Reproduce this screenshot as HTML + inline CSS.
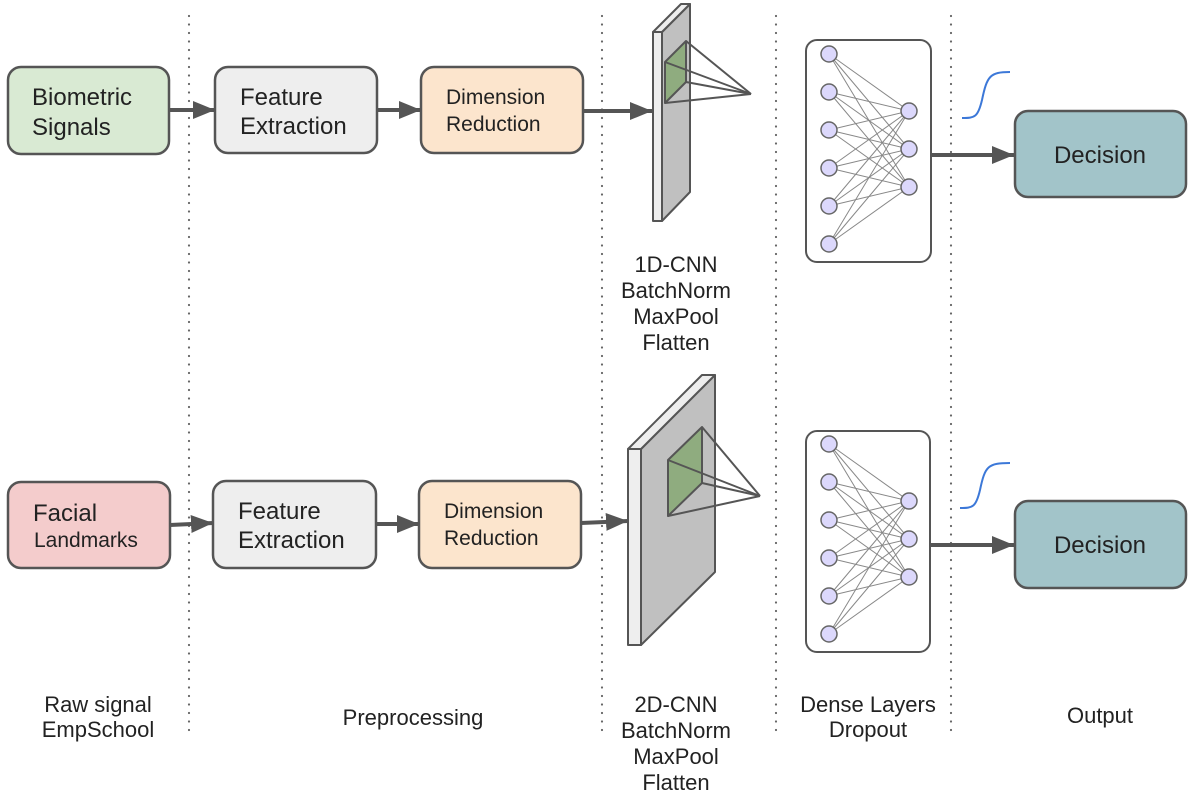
<!DOCTYPE html>
<html><head><meta charset="utf-8"><style>
html,body{margin:0;padding:0;background:#fff;}
svg{display:block;font-family:"Liberation Sans",Arial,sans-serif;}
</style></head><body>
<svg id="s" width="1196" height="800" viewBox="0 0 1196 800" xmlns="http://www.w3.org/2000/svg">
<defs>
<marker id="ar" markerWidth="24" markerHeight="20" refX="22" refY="9" orient="auto" markerUnits="userSpaceOnUse" viewBox="0 0 24 20">
<path d="M0,0 L22,9 L0,18 z" fill="#555"/></marker>
</defs>
<g stroke="#666" stroke-width="2.2" stroke-dasharray="0,8.5" stroke-linecap="round">
<line x1="189" y1="16" x2="189" y2="735"/>
<line x1="602" y1="16" x2="602" y2="735"/>
<line x1="776" y1="16" x2="776" y2="735"/>
<line x1="951" y1="16" x2="951" y2="735"/>
</g>
<g stroke="#555" stroke-width="2.5">
<rect x="8" y="67" width="161" height="87" rx="13" fill="#d9ead3"/>
<rect x="215" y="67" width="162" height="86" rx="13" fill="#eeeeee"/>
<rect x="421" y="67" width="162" height="86" rx="13" fill="#fce5cd"/>
<rect x="1015" y="111" width="171" height="86" rx="13" fill="#a2c4c9"/>
<rect x="8" y="482" width="162" height="86" rx="13" fill="#f4cccc"/>
<rect x="213" y="481" width="163" height="87" rx="13" fill="#eeeeee"/>
<rect x="419" y="481" width="162" height="87" rx="13" fill="#fce5cd"/>
<rect x="1015" y="501" width="171" height="87" rx="13" fill="#a2c4c9"/>
</g>
<g stroke="#555" stroke-width="4" marker-end="url(#ar)">
<line x1="169" y1="110" x2="215" y2="110"/>
<line x1="377" y1="110" x2="421" y2="110"/>
<line x1="583" y1="111" x2="652" y2="111"/>
<line x1="931" y1="155" x2="1014" y2="155"/>
<line x1="170" y1="525" x2="213" y2="523"/>
<line x1="376" y1="524" x2="419" y2="524"/>
<line x1="581" y1="523" x2="628" y2="521"/>
<line x1="930" y1="545" x2="1014" y2="545"/>
</g>
<g stroke="#555" stroke-width="2" stroke-linejoin="round">
<polygon points="662,32 690,4 690,192 662,221" fill="#c0c0c0"/>
<polygon points="653,32 681,4 690,4 662,32" fill="#eeeeee"/>
<rect x="653" y="32" width="9" height="189" fill="#eeeeee"/>
<polygon points="665,62 686,41 686,82 665,103" fill="#8fac7f"/>
<line x1="686" y1="41" x2="751" y2="94"/><line x1="665" y1="62" x2="751" y2="94"/>
<line x1="686" y1="82" x2="751" y2="94"/><line x1="665" y1="103" x2="751" y2="94"/>
</g>
<g stroke="#555" stroke-width="2" stroke-linejoin="round">
<polygon points="641,449 715,375 715,572 641,645" fill="#c0c0c0"/>
<polygon points="628,449 702,375 715,375 641,449" fill="#eeeeee"/>
<rect x="628" y="449" width="13" height="196" fill="#eeeeee"/>
<polygon points="668,460 702,427 702,483 668,516" fill="#8fac7f"/>
<line x1="702" y1="427" x2="760" y2="496"/><line x1="668" y1="460" x2="760" y2="496"/>
<line x1="702" y1="483" x2="760" y2="496"/><line x1="668" y1="516" x2="760" y2="496"/>
</g>
<rect x="806" y="40" width="125" height="222" rx="11" fill="#fff" stroke="#555" stroke-width="2"/>
<rect x="806" y="431" width="124" height="221" rx="11" fill="#fff" stroke="#555" stroke-width="2"/>
<g id="nets"></g>
<g fill="none" stroke="#3c78d8" stroke-width="2">
<path d="M962,118 C975,118 978,117 982,100 C987,76 990,72 1010,72"/>
<path d="M960,508 C973,508 976,507 980,490 C985,466 988,463 1010,463"/>
</g>
<g fill="#222" font-size="24">
<text x="32" y="105">Biometric</text><text x="32" y="135">Signals</text>
<text x="240" y="105">Feature</text><text x="240" y="134">Extraction</text>
<text x="238" y="519">Feature</text><text x="238" y="548">Extraction</text>
<text x="33" y="521">Facial</text>
<text x="1100" y="163" text-anchor="middle">Decision</text>
<text x="1100" y="553" text-anchor="middle">Decision</text>
</g>
<g fill="#222" font-size="21">
<text x="446" y="104">Dimension</text><text x="446" y="131">Reduction</text>
<text x="444" y="518">Dimension</text><text x="444" y="545">Reduction</text>
<text x="34" y="547">Landmarks</text>
</g>
<g fill="#222" font-size="22" text-anchor="middle">
<text x="676" y="272">1D-CNN</text><text x="676" y="298">BatchNorm</text><text x="676" y="324">MaxPool</text><text x="676" y="350">Flatten</text>
<text x="676" y="712">2D-CNN</text><text x="676" y="738">BatchNorm</text><text x="676" y="764">MaxPool</text><text x="676" y="790">Flatten</text>
<text x="98" y="712">Raw signal</text><text x="98" y="737">EmpSchool</text>
<text x="413" y="725">Preprocessing</text>
<text x="868" y="712">Dense Layers</text><text x="868" y="737">Dropout</text>
<text x="1100" y="723">Output</text>
</g>
</svg>
<script>
(function(){
var g=document.getElementById('nets'),ns='http://www.w3.org/2000/svg';
function net(lx,ly,rx,ry){
 var i,j,e;
 for(i=0;i<ly.length;i++)for(j=0;j<ry.length;j++){
  e=document.createElementNS(ns,'line');
  e.setAttribute('x1',lx);e.setAttribute('y1',ly[i]);e.setAttribute('x2',rx);e.setAttribute('y2',ry[j]);
  e.setAttribute('stroke','#888');e.setAttribute('stroke-width','1');g.appendChild(e);}
 function c(x,y){e=document.createElementNS(ns,'circle');e.setAttribute('cx',x);e.setAttribute('cy',y);e.setAttribute('r','8');
  e.setAttribute('fill','#dcd8fc');e.setAttribute('stroke','#666');e.setAttribute('stroke-width','1.5');g.appendChild(e);}
 ly.forEach(function(y){c(lx,y);});ry.forEach(function(y){c(rx,y);});
}
net(829,[54,92,130,168,206,244],909,[111,149,187]);
net(829,[444,482,520,558,596,634],909,[501,539,577]);
})();
</script>
</body></html>
